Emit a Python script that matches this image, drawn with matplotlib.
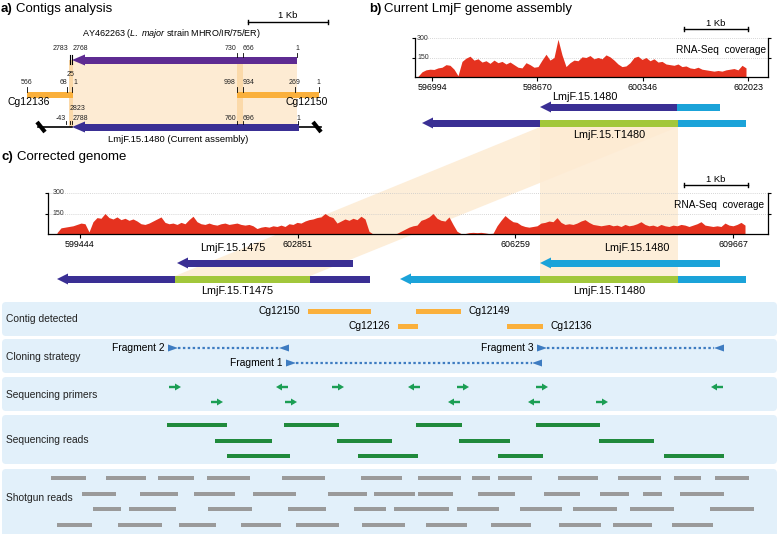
import numpy as np
import matplotlib
matplotlib.use("Agg")
import matplotlib.pyplot as plt
from matplotlib.patches import Polygon, Rectangle, FancyBboxPatch

plt.rcParams['font.family'] = ['Liberation Sans', 'DejaVu Sans']
plt.rcParams['mathtext.fontset'] = 'custom'
plt.rcParams['mathtext.rm'] = 'Liberation Sans'
plt.rcParams['mathtext.it'] = 'Liberation Sans:italic'

# ---------------- data ----------------
# RNA-seq coverage, current assembly (b), evenly sampled from start to end (bp)
cov_b_start, cov_b_end = 596771, 601991
cov_b = [5, 40, 55, 60, 58, 70, 75, 95, 90, 60, 10, 120, 145, 160, 130, 140, 115, 125,
         105, 130, 110, 120, 100, 115, 95, 75, 70, 110, 95, 75, 80, 130, 175, 130, 150,
         290, 170, 80, 110, 130, 125, 155, 150, 165, 140, 150, 140, 170, 155, 130, 100,
         80, 85, 110, 150, 160, 135, 150, 125, 140, 115, 120, 100, 95, 90, 100, 80, 85,
         70, 65, 75, 60, 55, 50, 45, 50, 45, 55, 60, 65, 55, 90, 70]
ticks_b = [596994, 598670, 600346, 602023]

# RNA-seq coverage, corrected genome (c)
cov_c_start, cov_c_end = 599084, 609855
cov_c = [10, 45, 50, 55, 60, 70, 80, 75, 15, 90, 120, 115, 150, 120, 110, 125, 105, 115,
         100, 110, 95, 75, 70, 80, 95, 110, 125, 85, 75, 80, 70, 85, 75, 105, 130, 90, 75,
         70, 80, 70, 65, 75, 80, 70, 75, 80, 70, 65, 70, 60, 40, 50, 55, 50, 60, 55, 65,
         55, 75, 70, 85, 80, 95, 105, 110, 120, 125, 150, 130, 120, 80, 95, 110, 100, 115,
         105, 130, 110, 20, 0, 0, 0, 0, 0, 0, 5, 20, 35, 50, 60, 65, 100, 110, 125, 150,
         115, 100, 95, 125, 70, 20, 3, 3, 10, 12, 10, 12, 8, 3, 5, 60, 100, 135, 110, 90,
         85, 65, 55, 50, 55, 60, 80, 85, 95, 90, 120, 85, 70, 75, 70, 80, 95, 105, 85, 70,
         65, 60, 65, 70, 60, 65, 55, 70, 60, 65, 75, 90, 70, 60, 65, 55, 70, 60, 55, 65,
         60, 70, 65, 55, 65, 75, 90, 65, 60, 55, 60, 55, 80, 65, 60, 70, 85, 65]
ticks_c = [599444, 602851, 606259, 609667]

# lower tracks (x in track units of the corrected genome view)
contig_names = ['Cg12150', 'Cg12149', 'Cg12126', 'Cg12136']
contig_start = [308, 416, 398, 507]
contig_end = [371, 461, 418, 543]
contig_row = [0, 0, 1, 1]
contig_label_side = ['left', 'right', 'left', 'right']

fragment_names = ['Fragment 2', 'Fragment 1', 'Fragment 3']
fragment_start = [168, 286, 537]
fragment_end = [289, 542, 724]
fragment_row = [0, 1, 0]

primer_pos = [169, 276, 332, 408, 457, 536, 711, 211, 285, 448, 528, 596]
primer_row = [0, 0, 0, 0, 0, 0, 0, 1, 1, 1, 1, 1]
primer_dir = ['R', 'L', 'R', 'L', 'R', 'R', 'L', 'R', 'R', 'L', 'L', 'R']

seq_reads = [
    [(167, 227), (284, 339), (416, 462), (536, 600)],
    [(215, 272), (337, 392), (459, 510), (599, 654)],
    [(227, 290), (358, 418), (498, 543), (664, 724)],
]

shotgun_reads = [
    [(51, 86), (106, 146), (158, 194), (207, 250), (282, 325), (361, 402), (418, 461),
     (472, 490), (498, 532), (558, 598), (618, 661), (674, 701), (715, 749)],
    [(82, 116), (140, 178), (194, 235), (253, 296), (328, 367), (374, 415), (418, 453),
     (478, 515), (544, 580), (600, 629), (643, 662), (680, 724)],
    [(93, 121), (129, 176), (208, 252), (288, 326), (354, 386), (394, 449), (457, 499),
     (520, 562), (573, 617), (630, 674), (710, 754)],
    [(57, 92), (118, 162), (179, 216), (241, 281), (296, 339), (362, 405), (426, 467),
     (491, 531), (559, 601), (613, 652), (672, 713)],
]

track_names = ['Contig detected', 'Cloning strategy', 'Sequencing primers',
               'Sequencing reads', 'Shotgun reads']

# ---------------- colours ----------------
red = '#e5321f'
purple = '#5e2b92'
indigo = '#3a2f94'
cyan = '#1ba3d9'
lime = '#a2c73b'
orange = '#fab03c'
beige = '#fdebd3'
beige_dark = '#fbd9a9'
boxc = '#e2f0fa'
blue = '#3e7cc1'
pgreen = '#1b9e54'
rgreen = '#208a3c'
gray = '#9a9a9a'

W, H = 779, 534
fig = plt.figure(figsize=(W / 100, H / 100), dpi=100)
ax = fig.add_axes([0, 0, 1, 1])
ax.set_xlim(0, W)
ax.set_ylim(H, 0)
ax.axis('off')


def gene(y, segs, h=7, hh=11, hl=11):
    x0, x1, c = segs[0]
    ax.add_patch(Polygon([(x0, y), (x0 + hl, y - hh / 2), (x0 + hl, y + hh / 2)],
                         closed=True, fc=c, lw=0, zorder=3))
    ax.add_patch(Rectangle((x0 + hl - 0.5, y - h / 2), x1 - x0 - hl + 0.5, h, fc=c, lw=0, zorder=3))
    for a, b, c in segs[1:]:
        ax.add_patch(Rectangle((a, y - h / 2), b - a, h, fc=c, lw=0, zorder=3))


def scalebar(x0, x1, y):
    ax.plot([x0, x1], [y, y], color='k', lw=1)
    ax.plot([x0, x0], [y - 2, y + 2], color='k', lw=1)
    ax.plot([x1, x1], [y - 2, y + 2], color='k', lw=1)
    ax.text((x0 + x1) / 2, y - 6, '1 Kb', ha='center', va='center', fontsize=6.8)


def small(x, y, s, ha='center'):
    ax.text(x, y, s, ha=ha, va='center', fontsize=5, color='#222222')


# ---------------- panel a ----------------
ax.text(1, 9, 'a)', fontsize=9.5, weight='bold', va='center')
ax.text(16, 9, 'Contigs analysis', fontsize=9.5, va='center')
scalebar(248, 328, 22)
ax.text(171, 34, r'AY462263 ($\it{L.\ major}$ strain MHRO/IR/75/ER)', ha='center',
        va='center', fontsize=6.5)

ax.add_patch(Rectangle((72, 60), 225, 67, fc=beige, lw=0, zorder=1))
ax.add_patch(Rectangle((237, 60), 6, 67, fc=beige_dark, lw=0, zorder=1))
ax.add_patch(Rectangle((69, 60), 4, 67, fc=beige_dark, lw=0, zorder=1))

gene(60, [(72, 297, purple)], h=7, hh=11, hl=13)
gene(127, [(72, 299, indigo)], h=7, hh=11, hl=13)
ax.add_patch(Rectangle((27, 92), 46, 6, fc=orange, lw=0, zorder=3))
ax.add_patch(Rectangle((237, 92), 82, 6, fc=orange, lw=0, zorder=3))

for x in [70.5, 72.5]:
    ax.plot([x, x], [55, 64], color='k', lw=0.8, zorder=4)
for x in [237, 243, 297]:
    ax.plot([x, x], [53, 57], color='k', lw=0.6, zorder=4)
for x in [27, 67, 72, 237, 243, 295, 319]:
    ax.plot([x, x], [87, 92], color='k', lw=0.6, zorder=4)
for x in [66, 70.5, 72.5, 237, 243, 298]:
    ax.plot([x, x], [121, 124], color='k', lw=0.6, zorder=4)

small(68, 49, '2783', 'right')
small(73, 49, '2768', 'left')
small(236, 49, '730', 'right')
small(243, 49, '666', 'left')
small(297, 49, '1')
small(71, 75, '25')
small(27, 83, '566')
small(67, 83, '68', 'right')
small(73, 83, '1', 'left')
small(236, 83, '998', 'right')
small(243, 83, '934', 'left')
small(295, 83, '269')
small(318, 83, '1')
ax.text(8, 102, 'Cg12136', fontsize=7.5, va='center')
ax.text(328, 102, 'Cg12150', fontsize=7.5, va='center', ha='right')
small(70, 109, '2823', 'left')
small(66, 118, '-43', 'right')
small(73, 118, '2788', 'left')
small(236, 118, '760', 'right')
small(243, 118, '696', 'left')
small(298, 118, '1')

ax.plot([38, 72], [127, 127], color='k', lw=1.2, zorder=2)
ax.plot([299, 321], [127, 127], color='k', lw=1.2, zorder=2)
for bx in [41, 317]:
    ax.plot([bx - 4, bx + 4], [122, 132], color='k', lw=3, solid_capstyle='butt', zorder=4)
ax.text(178, 140, 'LmjF.15.1480 (Current assembly)', ha='center', va='center', fontsize=6.8)

# ---------------- panel b ----------------
ax.text(369, 9, 'b)', fontsize=9.5, weight='bold', va='center')
ax.text(384, 9, 'Current LmjF genome assembly', fontsize=9.5, va='center')
scalebar(684, 748, 29)
ax.text(585, 97, 'LmjF.15.1480', ha='center', va='center', fontsize=7.8)
gene(107, [(540, 677, indigo), (677, 720, cyan)])
gene(123, [(422, 540, indigo), (540, 678, lime), (678, 746, cyan)])
ax.text(609, 135, 'LmjF.15.T1480', ha='center', va='center', fontsize=7.8)

# links between b and c (repeat region mapped twice in the corrected genome)
ax.add_patch(Polygon([(540, 127), (678, 127), (310, 276), (175, 276)], closed=True,
                     fc=beige, lw=0, alpha=0.85, zorder=0))
ax.add_patch(Rectangle((540, 127), 138, 152, fc=beige, lw=0, alpha=0.85, zorder=0))

# ---------------- panel c ----------------
ax.text(1, 157, 'c)', fontsize=9.5, weight='bold', va='center')
ax.text(17, 157, 'Corrected genome', fontsize=9.5, va='center')
scalebar(684, 748, 185)
ax.text(233, 248, 'LmjF.15.1475', ha='center', va='center', fontsize=7.8)
gene(263, [(177, 353, indigo)])
gene(279, [(57, 175, indigo), (175, 310, lime), (310, 370, indigo)])
ax.text(237, 291, 'LmjF.15.T1475', ha='center', va='center', fontsize=7.8)
ax.text(637, 248, 'LmjF.15.1480', ha='center', va='center', fontsize=7.8)
gene(263, [(540, 720, cyan)])
gene(279, [(400, 540, cyan), (540, 678, lime), (678, 746, cyan)])
ax.text(609, 291, 'LmjF.15.T1480', ha='center', va='center', fontsize=7.8)

# ---------------- lower tracks ----------------
box_top = [302, 339, 377, 415, 469]
box_h = [34, 34, 34, 49, 70]
label_y = [319, 357, 395, 440, 498]
for top, hgt, ly, name in zip(box_top, box_h, label_y, track_names):
    ax.add_patch(FancyBboxPatch((2, top), 775, hgt, boxstyle='round,pad=0,rounding_size=4',
                                fc=boxc, ec='none', zorder=0))
    ax.text(6, ly, name, va='center', fontsize=7.4, color='#222222')

for nm, a, b, r, side in zip(contig_names, contig_start, contig_end, contig_row, contig_label_side):
    y = 311 + 15 * r
    ax.add_patch(Rectangle((a, y - 2.5), b - a, 5, fc=orange, lw=0, zorder=3))
    if side == 'left':
        ax.text(a - 8, y, nm, ha='right', va='center', fontsize=7.4)
    else:
        ax.text(b + 8, y, nm, ha='left', va='center', fontsize=7.4)

for nm, a, b, r in zip(fragment_names, fragment_start, fragment_end, fragment_row):
    y = 348 + 15 * r
    ax.add_patch(Polygon([(a, y - 3.5), (a + 10, y), (a, y + 3.5)], closed=True, fc=blue, lw=0, zorder=3))
    ax.add_patch(Polygon([(b, y - 3.5), (b - 10, y), (b, y + 3.5)], closed=True, fc=blue, lw=0, zorder=3))
    ax.plot([a + 10, b - 10], [y, y], color=blue, lw=1.6, ls=(0, (1.1, 1.1)), zorder=2)
    ax.text(a - 3, y, nm, ha='right', va='center', fontsize=7.4)

for x, r, d in zip(primer_pos, primer_row, primer_dir):
    y = 387 + 15 * r
    L, hl = 12, 6
    if d == 'R':
        pts = [(x, y - 1.2), (x + L - hl, y - 1.2), (x + L - hl, y - 3.5), (x + L, y),
               (x + L - hl, y + 3.5), (x + L - hl, y + 1.2), (x, y + 1.2)]
    else:
        pts = [(x + L, y - 1.2), (x + hl, y - 1.2), (x + hl, y - 3.5), (x, y),
               (x + hl, y + 3.5), (x + hl, y + 1.2), (x + L, y + 1.2)]
    ax.add_patch(Polygon(pts, closed=True, fc=pgreen, lw=0, zorder=3))

for i, row in enumerate(seq_reads):
    y = 425 + 15.5 * i
    for a, b in row:
        ax.add_patch(Rectangle((a, y - 2), b - a, 4, fc=rgreen, lw=0, zorder=3))

for i, row in enumerate(shotgun_reads):
    y = 478 + 15.7 * i
    for a, b in row:
        ax.add_patch(Rectangle((a, y - 2), b - a, 4, fc=gray, lw=0, zorder=3))


# ---------------- coverage tracks ----------------
def coverage_axes(left, right, top, bottom, x0, x1, start, end, vals, ticks):
    cax = fig.add_axes([left / W, 1 - bottom / H, (right - left) / W, (bottom - top) / H])
    cax.set_facecolor('none')
    xs = np.linspace(start, end, len(vals))
    cax.fill_between(xs, 0, vals, color=red, lw=0)
    cax.set_xlim(x0, x1)
    cax.set_ylim(0, 300)
    for v in [150, 300]:
        cax.axhline(v, color='#c8c8c8', lw=0.6, ls=(0, (1, 1.5)), zorder=0)
        cax.text(0.006, v, str(v), transform=cax.get_yaxis_transform(), fontsize=5,
                 va='center', ha='left', color='#333333')
    cax.spines['top'].set_visible(False)
    for s in ['left', 'right', 'bottom']:
        cax.spines[s].set_linewidth(0.9)
    cax.set_xticks(ticks)
    cax.set_xticklabels([str(t) for t in ticks], fontsize=6.4)
    cax.tick_params(axis='x', length=3, width=0.8, pad=1.5)
    cax.set_yticks([150, 300])
    cax.set_yticklabels([])
    cax.tick_params(axis='y', which='both', length=2.5, width=0.8, direction='out',
                    left=True, right=True)
    cax.text(0.995, 0.7, 'RNA-Seq  coverage', transform=cax.transAxes, ha='right',
             va='center', fontsize=7.3)
    return cax


coverage_axes(415, 768, 38, 77, 596723, 602341, cov_b_start, cov_b_end, cov_b, ticks_b)
coverage_axes(48, 768, 193, 234, 598943, 610215, cov_c_start, cov_c_end, cov_c, ticks_c)

fig.savefig('out.png', dpi=100)
